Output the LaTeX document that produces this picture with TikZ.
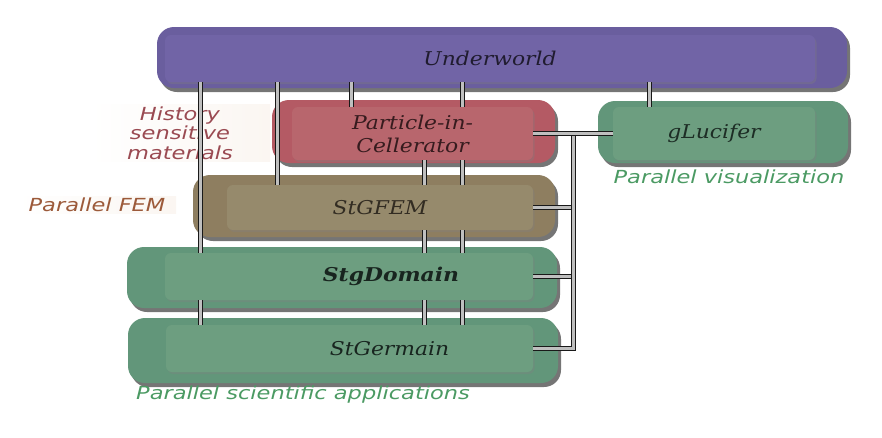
\documentclass[tikz,border=0pt]{standalone}
\usepackage{fontspec}
\newfontfamily\boxfont{DejaVu Serif}[FakeStretch=1.15]
\newfontfamily\notefont{DejaVu Sans}[FakeStretch=1.25]
\usetikzlibrary{shadows}

\definecolor{uwcol}{HTML}{6A5E9E}
\definecolor{uwin}{HTML}{7164A6}
\definecolor{piccol}{HTML}{B45A64}
\definecolor{picin}{HTML}{B8666D}
\definecolor{femcol}{HTML}{8E7E60}
\definecolor{femin}{HTML}{968A6C}
\definecolor{stgcol}{HTML}{62967A}
\definecolor{stgin}{HTML}{6D9E80}
\definecolor{redtxt}{HTML}{9A4A52}
\definecolor{brtxt}{HTML}{9C5A3A}
\definecolor{grtxt}{HTML}{4B9A63}

\begin{document}
\begin{tikzpicture}[x=1pt, y=-1pt,
  panel/.style={rounded corners=17pt, inner sep=0pt,
    drop shadow={shadow xshift=3pt, shadow yshift=-4pt, fill=black!60, opacity=.9}},
  inbox/.style={rounded corners=6pt, inner sep=0pt,
    font=\boxfont\itshape\fontsize{19}{23}\selectfont,
    drop shadow={shadow xshift=1.5pt, shadow yshift=-2pt, fill=black!50, opacity=.35}},
  note/.style={font=\notefont\itshape\fontsize{18}{19.5}\selectfont, align=center,
    inner sep=2pt},
  link/.style={draw=black!90, line width=1pt, double=black!25, double distance=3pt}]

  \useasboundingbox (0,0) rectangle (882,437);

  % Outer panels
  \node[panel, fill=uwcol, minimum width=690pt, minimum height=61pt] (uwpanel) at (502,57.5) {};
  \node[panel, fill=piccol, minimum width=283pt, minimum height=63pt] (picpanel) at (413.5,131.5) {};
  \node[panel, fill=stgcol, minimum width=250pt, minimum height=62pt] (glpanel) at (723,132) {};
  \node[panel, fill=femcol, minimum width=362pt, minimum height=62pt] (fempanel) at (374,206) {};
  \node[panel, fill=stgcol, minimum width=430pt, minimum height=61pt] (dompanel) at (342,277.5) {};
  \node[panel, fill=stgcol, minimum width=430pt, minimum height=65pt] (stgpanel) at (343,350.5) {};

  % Module boxes
  \node[inbox, fill=uwin, text=uwcol!30!black, minimum width=650pt, minimum height=47pt] (uw) at (490,58.5) {Underworld};
  \node[inbox, fill=picin, text=piccol!30!black, align=center, minimum width=241pt, minimum height=53pt] (pic) at (412.5,133.5) {Particle-in-\\Cellerator};
  \node[inbox, fill=stgin, text=stgcol!30!black, minimum width=202pt, minimum height=53pt] (gl) at (714,133.5) {gLucifer};
  \node[inbox, fill=femin, text=femcol!35!black, minimum width=306pt, minimum height=45pt] (gfem) at (380,207.5) {StGFEM};
  \node[inbox, fill=stgin, text=stgcol!25!black, minimum width=368pt, minimum height=47pt] (domain) at (349,276.5) {\hspace*{84pt}\bfseries StgDomain};
  \node[inbox, fill=stgin, text=stgcol!25!black, minimum width=367pt, minimum height=47pt] (germain) at (349.5,348.5) {\hspace*{80pt}StGermain};

  % Side notes
  \node[note, text=redtxt, left color=white, right color=brown!7, minimum width=180pt] (hist) at (180,133) {History\\sensitive\\materials};
  \node[note, text=brtxt, left color=white, right color=brown!7, minimum width=158pt] (pfem) at (97,205) {Parallel FEM};
  \node[note, text=grtxt] (pvis) at (729,177) {Parallel visualization};
  \node[note, text=grtxt] (psci) at (303,395) {Parallel scientific applications};

  % Link columns
  \coordinate (la) at (200.5,0);
  \coordinate (lb) at (277.5,0);
  \coordinate (lc) at (351,0);
  \coordinate (ld) at (424.5,0);
  \coordinate (le) at (462.5,0);
  \coordinate (lf) at (649.5,0);
  \coordinate (bus) at (573,0);

  % Links from Underworld
  \path[draw, link] (uw.south -| la) to (domain.north -| la);
  \path[draw, link] (uw.south -| lb) to (gfem.north -| lb);
  \path[draw, link] (uw.south -| lc) to (pic.north -| lc);
  \path[draw, link] (uw.south -| le) to (pic.north -| le);
  \path[draw, link] (uw.south -| lf) to (gl.north -| lf);
  % Links between layers
  \path[draw, link] (pic.south -| ld) to (gfem.north -| ld);
  \path[draw, link] (pic.south -| le) to (gfem.north -| le);
  \path[draw, link] (gfem.south -| ld) to (domain.north -| ld);
  \path[draw, link] (gfem.south -| le) to (domain.north -| le);
  \path[draw, link] (domain.south -| la) to (germain.north -| la);
  \path[draw, link] (domain.south -| ld) to (germain.north -| ld);
  \path[draw, link] (domain.south -| le) to (germain.north -| le);

  % Right hand bus
  \path[draw, link] (gfem.east) to (gfem.east -| bus);
  \path[draw, link] (domain.east) to (domain.east -| bus);
  \path[draw, link] (pic.east -| bus) |- (germain.east);
  \path[draw, link] (pic.east) to (gl.west);

\end{tikzpicture}
\end{document}
